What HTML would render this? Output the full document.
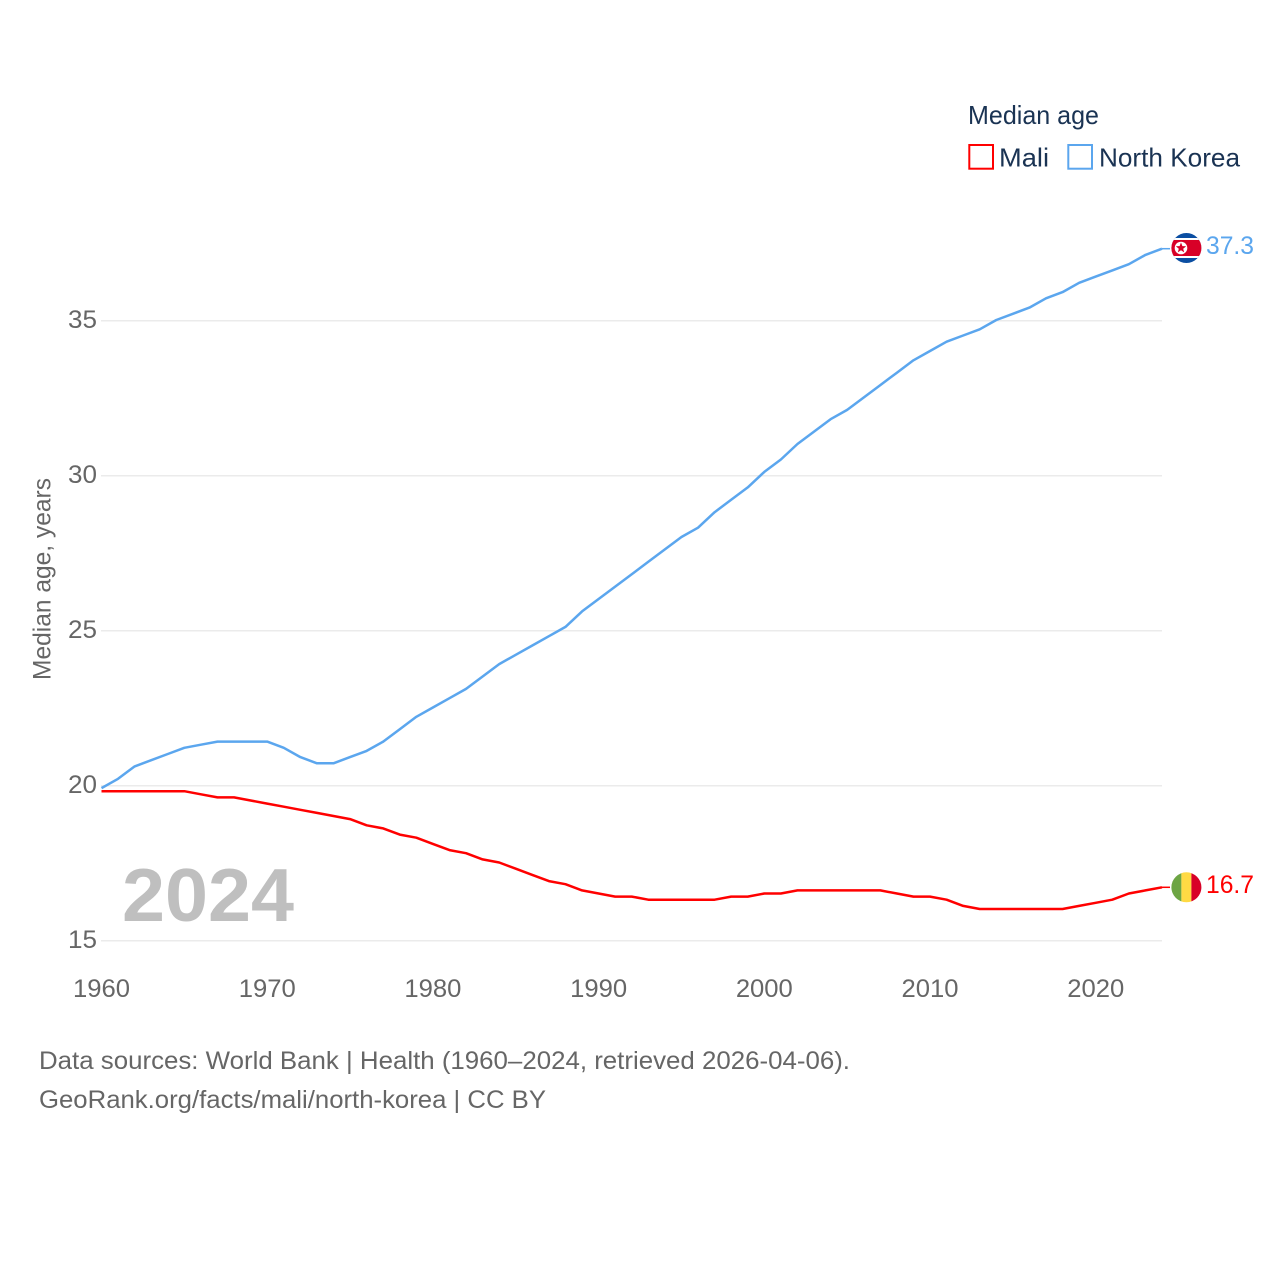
<!DOCTYPE html>
<html lang="en">
<head>
<meta charset="utf-8">
<title>Median age: Mali and North Korea</title>
<style>
html,body{margin:0;padding:0;background:#fff;width:1280px;height:1280px;overflow:hidden}
svg{display:block}
text{font-family:"Liberation Sans",sans-serif}
</style>
</head>
<body>
<svg id="chart" xmlns="http://www.w3.org/2000/svg" width="1280" height="1280" viewBox="0 0 1280 1280">
  <defs>
    <clipPath id="nk-clip"><circle cx="1186.4" cy="248" r="15"/></clipPath>
    <clipPath id="ml-clip"><circle cx="1186.4" cy="887.3" r="15"/></clipPath>
  </defs>
  <g id="grid"></g>
  <g id="yticks"></g>
  <g id="xticks"></g>
  <text transform="translate(50.5,680) rotate(-90)" font-size="25" fill="#666" textLength="202" lengthAdjust="spacingAndGlyphs">Median age, years</text>
  <text x="122" y="921" font-size="75" font-weight="700" fill="#bfbfbf" textLength="172" lengthAdjust="spacingAndGlyphs">2024</text>
  <path id="line-north-korea" fill="none" stroke="#5ba6ee" stroke-width="2.5" stroke-linejoin="round"/>
  <path id="line-mali" fill="none" stroke="#ff0000" stroke-width="2.5" stroke-linejoin="round"/>
  <line id="conn-nk" x2="1170" stroke="#5ba6ee" stroke-width="1.5"/>
  <line id="conn-ml" x2="1170" stroke="#ff0000" stroke-width="1.5"/>
  <g clip-path="url(#nk-clip)">
    <rect x="1171" y="233" width="31" height="30" fill="#0b4ea2"/>
    <rect x="1171" y="238" width="31" height="20" fill="#fff"/>
    <rect x="1171" y="240" width="31" height="16" fill="#d80027"/>
    <circle cx="1181" cy="248" r="6.3" fill="#fff"/>
    <polygon points="1181,242.5 1182.4,246.1 1186.2,246.3 1183.2,248.7 1184.2,252.4 1181,250.3 1177.8,252.4 1178.8,248.7 1175.8,246.3 1179.6,246.1" fill="#d80027"/>
  </g>
  <g clip-path="url(#ml-clip)">
    <rect x="1171" y="872" width="10.4" height="31" fill="#6da544"/>
    <rect x="1181.4" y="872" width="10" height="31" fill="#ffda44"/>
    <rect x="1191.4" y="872" width="10.6" height="31" fill="#d80027"/>
  </g>
  <text id="val-nk" x="1206" y="254" font-size="25" fill="#5ba6ee" textLength="48" lengthAdjust="spacingAndGlyphs"></text>
  <text id="val-ml" x="1206" y="893" font-size="25" fill="#ff0000" textLength="48" lengthAdjust="spacingAndGlyphs"></text>
  <g>
    <text x="968" y="124" font-size="26" fill="#1a3353" textLength="131" lengthAdjust="spacingAndGlyphs">Median age</text>
    <rect x="969.3" y="145" width="23.7" height="23.7" fill="none" stroke="#ff0000" stroke-width="2"/>
    <text x="999" y="166.5" font-size="26" fill="#1a3353" textLength="50" lengthAdjust="spacingAndGlyphs">Mali</text>
    <rect x="1068.3" y="145" width="23.7" height="23.7" fill="none" stroke="#5ba6ee" stroke-width="2"/>
    <text x="1099" y="166.5" font-size="26" fill="#1a3353" textLength="141" lengthAdjust="spacingAndGlyphs">North Korea</text>
  </g>
  <text x="39" y="1069" font-size="25" fill="#666" textLength="811" lengthAdjust="spacingAndGlyphs">Data sources: World Bank | Health (1960–2024, retrieved 2026-04-06).</text>
  <text x="39" y="1108" font-size="25" fill="#666" textLength="507" lengthAdjust="spacingAndGlyphs">GeoRank.org/facts/mali/north-korea | CC BY</text>
</svg>
<script>
const startYear = 1960;
const northKorea = [19.9,20.2,20.6,20.8,21.0,21.2,21.3,21.4,21.4,21.4,21.4,21.2,20.9,20.7,20.7,20.9,21.1,21.4,21.8,22.2,22.5,22.8,23.1,23.5,23.9,24.2,24.5,24.8,25.1,25.6,26.0,26.4,26.8,27.2,27.6,28.0,28.3,28.8,29.2,29.6,30.1,30.5,31.0,31.4,31.8,32.1,32.5,32.9,33.3,33.7,34.0,34.3,34.5,34.7,35.0,35.2,35.4,35.7,35.9,36.2,36.4,36.6,36.8,37.1,37.3];
const mali = [19.8,19.8,19.8,19.8,19.8,19.8,19.7,19.6,19.6,19.5,19.4,19.3,19.2,19.1,19.0,18.9,18.7,18.6,18.4,18.3,18.1,17.9,17.8,17.6,17.5,17.3,17.1,16.9,16.8,16.6,16.5,16.4,16.4,16.3,16.3,16.3,16.3,16.3,16.4,16.4,16.5,16.5,16.6,16.6,16.6,16.6,16.6,16.6,16.5,16.4,16.4,16.3,16.1,16.0,16.0,16.0,16.0,16.0,16.0,16.1,16.2,16.3,16.5,16.6,16.7];
const yTickValues = [15,20,25,30,35];
const xTickValues = [1960,1970,1980,1990,2000,2010,2020];

const NS = 'http://www.w3.org/2000/svg';
function xScale(year){ return 101.5 + (year - 1960) * (1162 - 101.5) / 64; }
function yScale(v){ return 940 - (v - 15) * 31; }
function linePath(values){
  return values.map(function(v,i){
    return (i ? 'L' : 'M') + xScale(startYear + i).toFixed(2) + ' ' + yScale(v).toFixed(2);
  }).join('');
}
const grid = document.getElementById('grid');
const yticks = document.getElementById('yticks');
const xticks = document.getElementById('xticks');
yTickValues.forEach(function(v){
  const l = document.createElementNS(NS,'line');
  
  
  l.setAttribute('x1', 101);
  l.setAttribute('x2', 1162);
  l.setAttribute('y1', yScale(v) + 0.7);
  l.setAttribute('y2', yScale(v) + 0.7);
  l.setAttribute('stroke', '#ebebeb');
  l.setAttribute('stroke-width', '1.5');
  grid.appendChild(l);
  const t = document.createElementNS(NS,'text');
  
  
  t.setAttribute('x', 68);
  t.setAttribute('y', yScale(v) + 8);
  t.setAttribute('font-size', '25');
  t.setAttribute('fill', '#666');
  t.setAttribute('textLength', '29');
  t.setAttribute('lengthAdjust', 'spacingAndGlyphs');
  t.textContent = v;
  yticks.appendChild(t);
});
xTickValues.forEach(function(y){
  const t = document.createElementNS(NS,'text');
  
  
  t.setAttribute('x', xScale(y) - 28.5);
  t.setAttribute('y', 997);
  t.setAttribute('font-size', '25');
  t.setAttribute('fill', '#666');
  t.setAttribute('textLength', '57');
  t.setAttribute('lengthAdjust', 'spacingAndGlyphs');
  t.textContent = y;
  xticks.appendChild(t);
});
document.getElementById('line-north-korea').setAttribute('d', linePath(northKorea));
document.getElementById('line-mali').setAttribute('d', linePath(mali));
const nkLast = northKorea[northKorea.length-1], mlLast = mali[mali.length-1];
const cn = document.getElementById('conn-nk');
cn.setAttribute('x1', xScale(2024)); cn.setAttribute('y1', yScale(nkLast)); cn.setAttribute('y2', yScale(nkLast));
const cm = document.getElementById('conn-ml');
cm.setAttribute('x1', xScale(2024)); cm.setAttribute('y1', yScale(mlLast)); cm.setAttribute('y2', yScale(mlLast));
document.getElementById('val-nk').textContent = nkLast.toFixed(1);
document.getElementById('val-ml').textContent = mlLast.toFixed(1);
</script>
</body>
</html>
